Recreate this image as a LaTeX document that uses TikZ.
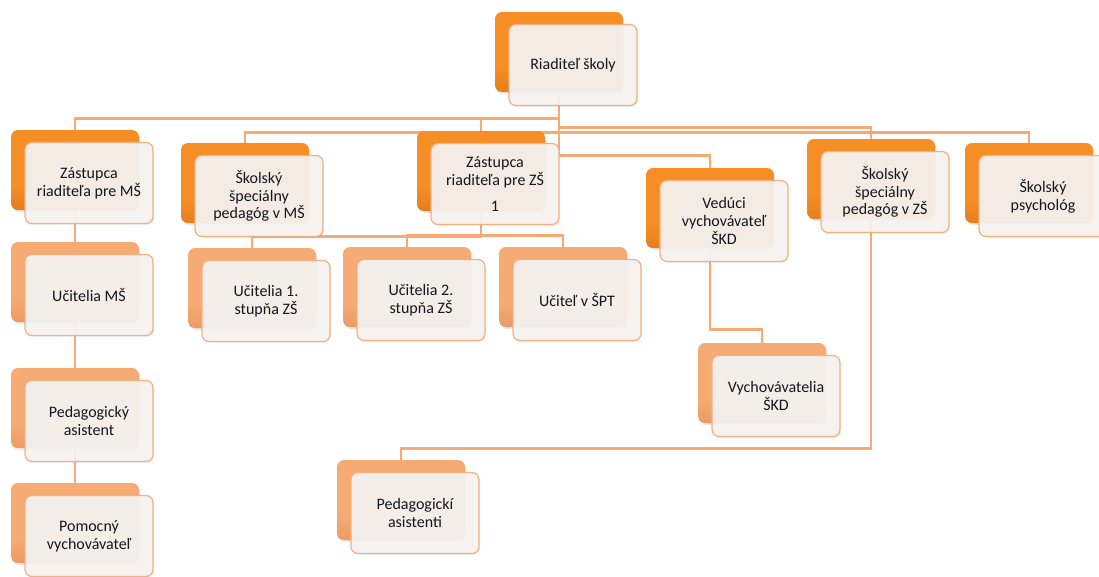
\documentclass[tikz,border=0pt]{standalone}
\usepackage{fontspec}
\setmainfont{Carlito}
\usetikzlibrary{backgrounds,shadows}

\definecolor{orgtop}{RGB}{253,204,146}
\definecolor{orgmid}{RGB}{245,142,36}
\definecolor{orgbot}{RGB}{204,96,16}
\definecolor{peachtop}{RGB}{254,226,200}
\definecolor{peachmid}{RGB}{246,170,116}
\definecolor{peachbot}{RGB}{220,128,72}
\definecolor{linkcol}{RGB}{247,170,118}
\definecolor{frontfill}{RGB}{245,242,240}
\definecolor{frontline}{RGB}{244,176,130}
\definecolor{textcol}{RGB}{20,22,32}

\pgfdeclareverticalshading{orgshade}{100bp}{color(0bp)=(orgbot); color(40bp)=(orgmid); color(86bp)=(orgmid); color(100bp)=(orgtop)}
\pgfdeclareverticalshading{peachshade}{100bp}{color(0bp)=(peachbot); color(40bp)=(peachmid); color(86bp)=(peachmid); color(100bp)=(peachtop)}

\begin{document}
\begin{tikzpicture}[x = 1pt, y = -1pt,
		backorg/.style = {shading = orgshade, rounded corners = 7pt, minimum width = 128pt, minimum height = 80pt, inner sep = 0pt,
			drop shadow = {opacity = 0.18, shadow xshift = 1pt, shadow yshift = -2pt}},
		backpeach/.style = {shading = peachshade, rounded corners = 7pt, minimum width = 128pt, minimum height = 80pt, inner sep = 0pt,
			drop shadow = {opacity = 0.18, shadow xshift = 1pt, shadow yshift = -2pt}},
		front/.style = {fill = frontfill, fill opacity = 0.94, text opacity = 1, draw = frontline, line width = 1.2pt, rounded corners = 7pt,
			minimum width = 128pt, minimum height = 81pt, inner sep = 2pt, align = center, text = textcol,
			font = \fontsize{16}{17.7}\selectfont, drop shadow = {opacity = 0.12, shadow xshift = 1pt, shadow yshift = -1.5pt}},
		conn/.style = {draw = linkcol, line width = 2.6pt}]
		\useasboundingbox (0, 0) rectangle (1099, 576);
		% top
		\node[backorg] (riad) at (559, 52) {};
		\node[front] (riad-t) at ([shift = {(14, 13)}]riad) {Riaditeľ školy};
		% second row
		\node[backorg] (zms) at (75, 170) {};
		\node[front] (zms-t) at ([shift = {(14, 13)}]zms) {Zástupca\\riaditeľa pre MŠ};
		\node[backorg] (sspms) at (245, 183) {};
		\node[front] (sspms-t) at ([shift = {(14, 13)}]sspms) {Školský\\špeciálny\\pedagóg v MŠ};
		\node[backorg] (zzs) at (481, 171) {};
		\node[front] (zzs-t) at ([shift = {(14, 13)}]zzs) {Zástupca\\riaditeľa pre ZŠ\\[8pt]1};
		\node[backorg] (vv) at (710, 208) {};
		\node[front] (vv-t) at ([shift = {(14, 13)}]vv) {Vedúci\\vychovávateľ\\ŠKD};
		\node[backorg] (sspzs) at (871, 179) {};
		\node[front] (sspzs-t) at ([shift = {(14, 13)}]sspzs) {Školský\\špeciálny\\pedagóg v ZŠ};
		\node[backorg] (psy) at (1029, 183) {};
		\node[front] (psy-t) at ([shift = {(14, 13)}]psy) {Školský\\psychológ};
		% third row
		\node[backpeach] (um) at (75, 282) {};
		\node[front] (um-t) at ([shift = {(14, 13)}]um) {Učitelia MŠ};
		\node[backpeach] (u1) at (252, 288) {};
		\node[front] (u1-t) at ([shift = {(14, 13)}]u1) {Učitelia 1.\\stupňa ZŠ};
		\node[backpeach] (u2) at (407, 287) {};
		\node[front] (u2-t) at ([shift = {(14, 13)}]u2) {Učitelia 2.\\stupňa ZŠ};
		\node[backpeach] (spt) at (563, 287) {};
		\node[front] (spt-t) at ([shift = {(14, 13)}]spt) {Učiteľ v ŠPT};
		% lower boxes
		\node[backpeach] (vych) at (762, 383) {};
		\node[front] (vych-t) at ([shift = {(14, 13)}]vych) {Vychovávatelia\\ŠKD};
		\node[backpeach] (pa) at (75, 408) {};
		\node[front] (pa-t) at ([shift = {(14, 13)}]pa) {Pedagogický\\asistent};
		\node[backpeach] (pv) at (75, 523) {};
		\node[front] (pv-t) at ([shift = {(14, 13)}]pv) {Pomocný\\vychovávateľ};
		\node[backpeach] (pas) at (401, 500) {};
		\node[front] (pas-t) at ([shift = {(14, 13)}]pas) {Pedagogickí\\asistenti};
		% connectors
		\begin{scope}[on background layer]
			\draw[conn] (riad.south) -- ++(0, 26) -| (zms.north);
			\draw[conn] (riad.south) -- ++(0, 26) -| (zzs.north);
			\draw[conn] (riad.south) -- ++(0, 40) -| (sspms.north);
			\draw[conn] (riad.south) -- ++(0, 35) -| (sspzs.north);
			\draw[conn] (riad.south) -- ++(0, 40) -| (psy.north);
			\draw[conn] (riad.south) -- ++(0, 63) -| (vv.north);
			\draw[conn] (zms.south) -- (um.north);
			\draw[conn] (um.south) -- (pa.north);
			\draw[conn] (pa.south) -- (pv.north);
			\draw[conn] (zzs.south) -- ++(0, 25) -| (u1.north);
			\draw[conn] (zzs.south) -- ++(0, 24) -| (u2.north);
			\draw[conn] (zzs.south) -- ++(0, 24) -| (spt.north);
			\draw[conn] (vv.south) -- ++(0, 81) -| (vych.north);
			\draw[conn] (sspzs.south) -- ++(0, 229) -| (pas.north);
		\end{scope}
	\end{tikzpicture}
\end{document}
